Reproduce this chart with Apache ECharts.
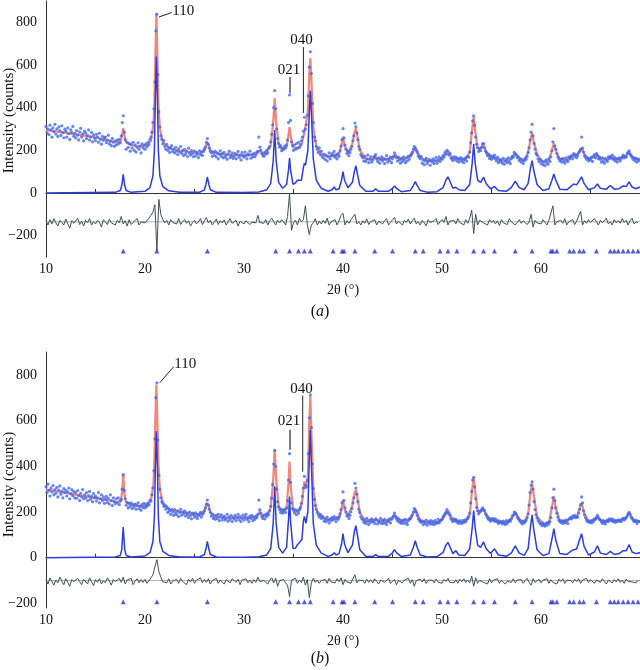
<!DOCTYPE html>
<html>
<head>
<meta charset="utf-8">
<script src="https://cdn.jsdelivr.net/npm/echarts@6/dist/echarts.min.js"></script>
<style>
  html, body { margin: 0; padding: 0; background: #fff; }
  #chart { width: 640px; height: 670px; }
</style>
</head>
<body>
<div id="chart"></div>
<script>
// 观测点: 2θ 从 10 开始, 每 0.1° 一个 (一行 = 1°)
var obsStart = 10
var obsStep = 0.1
// 差值曲线: 每 0.2° 一个 (一行 = 1°)
var diffStep = 0.2

var obsA = [
  312, 281, 300, 274, 318, 296, 262, 305, 288, 322,
  276, 301, 265, 310, 292, 270, 315, 283, 259, 299,
  290, 262, 305, 278, 251, 296, 284, 312, 266, 280,
  258, 292, 271, 249, 286, 303, 262, 277, 244, 290,
  281, 255, 270, 296, 248, 263, 284, 240, 272, 258,
  246, 275, 262, 238, 280, 251, 229, 266, 247, 258,
  262, 236, 248, 271, 230, 243, 222, 256, 238, 219,
  245, 226, 248, 230, 252, 236, 268, 330, 362, 285,
  250, 205, 238, 214, 232, 196, 228, 211, 238, 200,
  226, 192, 214, 235, 205, 220, 188, 230, 211, 224,
  205, 230, 216, 238, 226, 250, 262, 285, 330, 395,
  520, 760, 838, 555, 380, 310, 268, 252, 230, 246,
  218, 205, 228, 200, 214, 190, 210, 222, 195, 206,
  188, 214, 196, 180, 207, 192, 218, 186, 200, 176,
  205, 182, 196, 171, 210, 188, 178, 199, 184, 170,
  196, 174, 190, 182, 166, 198, 180, 192, 176, 195,
  205, 215, 238, 255, 228, 210, 196, 188, 172, 190,
  176, 195, 170, 188, 160, 182, 198, 172, 185, 165,
  190, 168, 178, 158, 184, 196, 166, 175, 188, 162,
  172, 186, 160, 180, 195, 167, 178, 155, 189, 174,
  168, 192, 175, 160, 184, 178, 196, 163, 180, 170,
  186, 170, 180, 192, 195, 262, 215, 200, 185, 178,
  172, 190, 182, 200, 188, 210, 218, 240, 275, 320,
  400, 480, 395, 300, 255, 232, 215, 222, 198, 210,
  205, 220, 212, 226, 248, 330, 460, 340, 240, 222,
  200, 225, 205, 232, 210, 238, 215, 228, 245, 262,
  290, 355, 300, 320, 365, 455, 590, 662, 560, 420,
  330, 262, 245, 218, 205, 190, 212, 180, 196, 172,
  165, 182, 158, 176, 150, 170, 188, 160, 174, 185,
  178, 195, 168, 180, 160, 185, 172, 198, 220, 250,
  302, 258, 225, 205, 185, 196, 175, 190, 205, 218,
  245, 268, 328, 310, 282, 250, 218, 205, 180, 172,
  165, 150, 172, 148, 160, 178, 142, 158, 170, 145,
  155, 168, 172, 180, 160, 148, 165, 140, 158, 170,
  150, 162, 138, 158, 175, 145, 160, 152, 168, 142,
  160, 172, 188, 176, 165, 150, 168, 155, 140, 162,
  148, 170, 156, 142, 165, 150, 172, 158, 175, 182,
  190, 205, 218, 212, 200, 190, 175, 168, 160, 172,
  140, 155, 132, 150, 162, 138, 148, 158, 130, 152,
  145, 160, 138, 152, 166, 140, 155, 170, 148, 162,
  158, 175, 168, 190, 182, 200, 195, 178, 186, 165,
  160, 152, 170, 158, 168, 150, 162, 145, 158, 166,
  148, 160, 142, 158, 165, 150, 172, 168, 192, 235,
  282, 338, 362, 318, 262, 228, 212, 195, 208, 198,
  215, 230, 232, 212, 196, 188, 175, 182, 162, 175,
  158, 172, 165, 178, 160, 150, 168, 142, 158, 148,
  155, 140, 162, 135, 150, 158, 142, 165, 148, 138,
  160, 172, 168, 190, 182, 178, 165, 170, 152, 160,
  145, 155, 138, 150, 162, 158, 172, 190, 212, 248,
  285, 322, 268, 232, 205, 185, 178, 160, 148, 158,
  138, 150, 132, 145, 128, 155, 142, 135, 160, 148,
  170, 198, 240, 302, 220, 205, 185, 170, 162, 150,
  158, 145, 162, 150, 140, 165, 152, 148, 170, 160,
  168, 175, 160, 185, 172, 180, 165, 175, 188, 196,
  205, 262, 210, 192, 175, 168, 158, 165, 150, 160,
  155, 168, 148, 172, 180, 165, 185, 176, 160, 168,
  158, 145, 165, 150, 140, 162, 155, 148, 170, 160,
  172, 165, 178, 158, 168, 150, 162, 145, 158, 165,
  150, 162, 170, 178, 165, 172, 168, 185, 190, 198,
  182, 175, 168, 158, 165, 150, 162, 145, 158, 152
]

var obsB = [
  310, 285, 322, 295, 270, 305, 288, 316, 275, 298,
  282, 308, 266, 296, 314, 278, 290, 262, 302, 285,
  296, 270, 288, 305, 258, 280, 298, 272, 290, 262,
  285, 260, 294, 272, 250, 282, 266, 298, 258, 275,
  262, 285, 250, 272, 290, 256, 268, 245, 280, 262,
  270, 248, 262, 285, 240, 258, 275, 250, 266, 238,
  255, 268, 242, 260, 235, 275, 250, 228, 262, 245,
  236, 258, 240, 262, 232, 250, 255, 300, 362, 295,
  258, 230, 242, 218, 238, 225, 240, 215, 232, 222,
  235, 212, 228, 240, 215, 226, 208, 232, 220, 238,
  218, 232, 225, 240, 232, 252, 248, 275, 305, 380,
  520, 700, 765, 515, 360, 300, 262, 245, 238, 225,
  230, 212, 222, 198, 215, 205, 190, 212, 200, 185,
  210, 195, 188, 205, 180, 198, 212, 186, 200, 192,
  205, 182, 196, 188, 175, 200, 185, 170, 195, 188,
  178, 196, 182, 172, 190, 185, 198, 178, 190, 196,
  205, 218, 235, 252, 230, 212, 198, 182, 190, 172,
  180, 168, 185, 172, 190, 162, 178, 188, 165, 176,
  182, 165, 172, 190, 160, 178, 168, 185, 158, 175,
  170, 185, 162, 176, 190, 166, 180, 158, 172, 186,
  165, 178, 190, 168, 174, 158, 182, 172, 185, 162,
  178, 168, 182, 175, 190, 252, 210, 195, 180, 172,
  185, 170, 190, 180, 195, 188, 205, 225, 260, 320,
  410, 470, 400, 300, 245, 222, 210, 198, 212, 195,
  205, 212, 198, 218, 250, 340, 455, 330, 240, 215,
  208, 196, 210, 188, 205, 195, 212, 220, 238, 268,
  305, 356, 318, 310, 338, 455, 612, 712, 570, 410,
  302, 255, 228, 212, 198, 188, 178, 190, 172, 182,
  175, 160, 170, 158, 178, 165, 152, 170, 162, 175,
  165, 180, 170, 158, 175, 168, 180, 192, 210, 240,
  288, 250, 218, 200, 182, 190, 172, 185, 200, 215,
  240, 262, 325, 305, 278, 245, 212, 198, 180, 170,
  168, 155, 162, 150, 172, 158, 145, 165, 155, 170,
  158, 162, 150, 170, 165, 148, 160, 155, 172, 150,
  162, 150, 168, 155, 145, 165, 158, 170, 152, 168,
  175, 182, 195, 180, 172, 162, 170, 155, 165, 150,
  158, 165, 150, 168, 155, 145, 162, 170, 172, 180,
  188, 200, 215, 208, 198, 185, 172, 165, 160, 155,
  160, 145, 158, 150, 165, 142, 155, 160, 148, 162,
  148, 158, 145, 162, 150, 155, 168, 152, 160, 165,
  168, 178, 185, 192, 198, 210, 202, 195, 185, 172,
  165, 158, 170, 162, 168, 155, 160, 150, 162, 155,
  150, 162, 155, 165, 158, 168, 172, 180, 195, 240,
  290, 340, 352, 310, 258, 220, 205, 192, 200, 205,
  210, 218, 212, 205, 192, 185, 175, 168, 172, 160,
  165, 172, 168, 160, 170, 158, 162, 150, 160, 155,
  158, 148, 160, 152, 145, 162, 150, 158, 165, 160,
  170, 182, 188, 200, 196, 190, 178, 172, 165, 160,
  155, 148, 160, 152, 158, 165, 175, 192, 230, 285,
  318, 332, 300, 245, 210, 188, 175, 165, 158, 150,
  148, 140, 152, 145, 138, 150, 142, 155, 148, 158,
  175, 218, 262, 300, 250, 218, 195, 178, 165, 160,
  155, 162, 150, 160, 152, 165, 158, 150, 168, 172,
  175, 170, 182, 178, 185, 175, 180, 178, 195, 212,
  232, 266, 240, 205, 188, 175, 165, 158, 162, 155,
  160, 152, 165, 158, 170, 168, 178, 185, 175, 168,
  165, 158, 150, 162, 155, 148, 160, 165, 158, 170,
  168, 162, 170, 158, 165, 155, 162, 158, 165, 160,
  165, 158, 168, 172, 165, 170, 175, 182, 192, 198,
  190, 178, 172, 165, 160, 158, 165, 150, 160, 158
]

// 计算曲线 (红), [2θ, counts]
var calcA = [
  [10, 295], [11, 289], [12, 282], [13, 275], [14, 268], [15, 260], [16, 250], [17, 238],
  [17.5, 240], [17.65, 262], [17.8, 304], [17.95, 262], [18.1, 238], [18.6, 224], [19.5, 217],
  [20.2, 222], [20.6, 245], [20.85, 320], [20.95, 420], [21.05, 650], [21.15, 843], [21.25, 640],
  [21.35, 420], [21.5, 300], [21.8, 240], [22.4, 210], [23.5, 197], [24.5, 192], [25.5, 188],
  [26.0, 200], [26.15, 222], [26.3, 240], [26.45, 222], [26.6, 200], [27.2, 186], [28, 180],
  [29, 178], [30, 178], [31, 180], [31.4, 188], [31.6, 200], [31.8, 188], [32.3, 192], [32.7, 225],
  [32.95, 330], [33.1, 445], [33.25, 330], [33.5, 228], [33.9, 200], [34.3, 215], [34.5, 275],
  [34.6, 309], [34.7, 270], [34.95, 215], [35.2, 210], [35.4, 216], [35.6, 214], [35.8, 225],
  [36.0, 265], [36.1, 282], [36.25, 290], [36.45, 380], [36.6, 560], [36.7, 632], [36.8, 540],
  [37.0, 310], [37.3, 220], [37.8, 185], [38.5, 170], [38.9, 175], [39.1, 182], [39.3, 174],
  [39.6, 180], [39.85, 225], [40.0, 263], [40.15, 225], [40.5, 185], [40.95, 230], [41.15, 285],
  [41.3, 303], [41.45, 270], [41.7, 200], [42.3, 160], [43, 158], [43.3, 166], [43.6, 158],
  [44.6, 158], [45.0, 170], [45.2, 178], [45.4, 170], [45.9, 158], [46.8, 170], [47.1, 195],
  [47.3, 210], [47.5, 195], [47.8, 168], [48.5, 150], [49.5, 150], [50.1, 170], [50.4, 185],
  [50.6, 193], [50.8, 183], [51.1, 162], [51.4, 163], [51.7, 158], [52.3, 155], [52.8, 190],
  [53.05, 300], [53.2, 357], [53.35, 290], [53.6, 210], [53.9, 205], [54.2, 225], [54.45, 195],
  [54.9, 165], [55.3, 170], [55.7, 155], [56.5, 148], [57.0, 165], [57.4, 186], [57.8, 165],
  [58.3, 150], [58.7, 190], [58.95, 255], [59.1, 280], [59.25, 245], [59.6, 180], [60.2, 145],
  [60.8, 155], [61.1, 200], [61.3, 233], [61.5, 200], [61.9, 160], [62.6, 158], [63.0, 170],
  [63.3, 178], [63.6, 178], [63.9, 195], [64.1, 210], [64.35, 185], [64.8, 160], [65.4, 168],
  [65.7, 178], [66.0, 165], [66.6, 155], [67.0, 170], [67.4, 158], [67.9, 160], [68.3, 170],
  [68.6, 172], [68.9, 193], [69.2, 172], [69.6, 160], [70, 160]
]

var calcB = [
  [10, 298], [11, 291], [12, 284], [13, 276], [14, 268], [15, 261], [16, 254], [17, 246],
  [17.55, 244], [17.7, 290], [17.8, 368], [17.9, 290], [18.05, 245], [18.5, 232], [19.5, 225],
  [20.2, 228], [20.6, 250], [20.85, 320], [20.95, 430], [21.05, 620], [21.15, 757], [21.25, 600],
  [21.35, 420], [21.5, 300], [21.8, 240], [22.5, 208], [24, 197], [25.5, 190], [26.0, 205],
  [26.15, 225], [26.3, 240], [26.45, 222], [26.6, 200], [27.2, 180], [28, 175], [30, 175],
  [31, 176], [31.4, 185], [31.6, 203], [31.8, 186], [32.3, 185], [32.7, 220], [32.95, 340],
  [33.1, 473], [33.25, 340], [33.5, 225], [33.9, 200], [34.3, 215], [34.5, 330], [34.6, 421],
  [34.7, 320], [34.95, 215], [35.2, 200], [35.4, 197], [35.6, 205], [35.85, 240], [36.0, 300],
  [36.1, 334], [36.25, 300], [36.45, 360], [36.6, 600], [36.7, 706], [36.8, 560], [37.0, 300],
  [37.3, 210], [37.8, 180], [38.5, 166], [39.1, 172], [39.6, 172], [39.85, 215], [40.0, 254],
  [40.15, 215], [40.5, 180], [40.95, 230], [41.15, 280], [41.3, 298], [41.45, 265], [41.7, 195],
  [42.3, 162], [43.3, 165], [44.6, 159], [45.2, 188], [45.9, 160], [46.8, 168], [47.1, 195],
  [47.3, 210], [47.5, 195], [47.8, 165], [48.5, 153], [49.5, 153], [50.1, 170], [50.4, 195],
  [50.6, 203], [50.8, 190], [51.1, 165], [51.4, 163], [51.7, 158], [52.3, 157], [52.8, 190],
  [53.05, 300], [53.2, 350], [53.35, 290], [53.6, 205], [53.9, 200], [54.2, 210], [54.45, 190],
  [54.9, 165], [55.3, 166], [55.7, 155], [56.5, 153], [57.0, 170], [57.4, 197], [57.8, 170],
  [58.3, 153], [58.7, 190], [58.95, 290], [59.1, 324], [59.25, 280], [59.6, 180], [60.3, 144],
  [60.8, 155], [61.1, 220], [61.3, 268], [61.5, 215], [61.9, 162], [62.3, 157], [63.0, 172],
  [63.3, 181], [63.6, 178], [63.9, 215], [64.1, 240], [64.35, 195], [64.8, 158], [65.4, 165],
  [65.7, 181], [66.0, 165], [66.5, 157], [67.0, 166], [67.4, 160], [67.9, 162], [68.3, 170],
  [68.6, 175], [68.9, 198], [69.2, 175], [69.5, 159], [70, 160]
]

// 单相计算峰 (蓝, 无背景)
var phaseA = [
  [10, 0], [17.0, 3], [17.5, 12], [17.65, 35], [17.8, 88], [17.95, 35], [18.1, 12], [18.6, 3],
  [20.0, 8], [20.5, 25], [20.8, 80], [20.95, 200], [21.05, 450], [21.15, 640], [21.25, 450],
  [21.35, 200], [21.5, 80], [21.8, 30], [22.4, 10], [23.5, 3], [25.5, 3], [26.0, 15], [26.15, 40],
  [26.3, 76], [26.45, 40], [26.6, 15], [27.2, 3], [30, 2], [31.5, 5], [32.3, 15], [32.7, 45],
  [32.95, 150], [33.1, 295], [33.25, 150], [33.5, 50], [33.9, 22], [34.3, 40], [34.5, 110],
  [34.6, 164], [34.7, 110], [34.95, 40], [35.2, 48], [35.4, 60], [35.6, 55], [35.8, 60],
  [36.0, 120], [36.1, 140], [36.2, 130], [36.45, 200], [36.6, 380], [36.7, 480], [36.8, 380],
  [37.0, 160], [37.3, 60], [37.8, 22], [38.5, 8], [38.9, 15], [39.1, 28], [39.3, 15], [39.6, 20],
  [39.85, 60], [40.0, 100], [40.15, 60], [40.5, 25], [40.95, 50], [41.15, 100], [41.3, 128],
  [41.45, 90], [41.7, 35], [42.3, 8], [43.0, 8], [43.3, 19], [43.6, 8], [44.6, 8], [45.0, 22],
  [45.2, 33], [45.4, 22], [45.9, 6], [46.8, 12], [47.1, 35], [47.3, 53], [47.5, 35], [47.8, 12],
  [48.5, 4], [49.5, 6], [50.1, 25], [50.4, 60], [50.6, 76], [50.8, 55], [51.1, 22], [51.4, 27],
  [51.7, 15], [52.3, 12], [52.8, 40], [53.05, 140], [53.2, 230], [53.35, 140], [53.6, 60],
  [53.9, 50], [54.2, 74], [54.45, 45], [54.9, 20], [55.3, 30], [55.7, 12], [56.5, 8], [57.0, 25],
  [57.4, 56], [57.8, 25], [58.3, 15], [58.7, 45], [58.95, 120], [59.1, 152], [59.25, 110],
  [59.6, 40], [60.2, 12], [60.8, 20], [61.1, 60], [61.3, 89], [61.5, 60], [61.9, 18], [62.6, 15],
  [63.0, 30], [63.3, 42], [63.6, 38], [63.9, 60], [64.1, 76], [64.35, 45], [64.8, 15], [65.4, 25],
  [65.7, 42], [66.0, 22], [66.6, 18], [67.0, 35], [67.4, 18], [67.9, 20], [68.3, 33], [68.6, 30],
  [68.9, 52], [69.2, 28], [69.6, 20], [69.9, 27], [70, 25]
]

var phaseB = [
  [10, 0], [17.0, 3], [17.5, 10], [17.65, 35], [17.8, 134], [17.95, 35], [18.1, 10], [18.6, 3],
  [20.0, 8], [20.5, 22], [20.8, 70], [20.95, 180], [21.05, 400], [21.15, 553], [21.25, 400],
  [21.35, 180], [21.5, 70], [21.8, 28], [22.4, 10], [23.5, 3], [25.5, 3], [26.0, 14], [26.15, 38],
  [26.3, 71], [26.45, 38], [26.6, 14], [27.2, 3], [30, 2], [31.5, 4], [32.3, 12], [32.7, 40],
  [32.95, 150], [33.1, 312], [33.25, 150], [33.5, 45], [33.9, 20], [34.3, 45], [34.5, 170],
  [34.6, 268], [34.7, 160], [34.95, 40], [35.2, 42], [35.4, 57], [35.6, 50], [35.85, 80],
  [36.0, 160], [36.1, 181], [36.25, 150], [36.45, 200], [36.6, 440], [36.7, 560], [36.8, 420],
  [37.0, 150], [37.3, 55], [37.8, 20], [38.5, 6], [38.9, 12], [39.1, 22], [39.3, 12], [39.6, 18],
  [39.85, 60], [40.0, 105], [40.15, 60], [40.5, 22], [40.95, 55], [41.15, 115], [41.3, 140],
  [41.45, 100], [41.7, 35], [42.3, 6], [43.0, 5], [43.3, 13], [43.6, 5], [44.6, 6], [45.0, 22],
  [45.2, 35], [45.4, 22], [45.9, 5], [46.8, 12], [47.1, 45], [47.3, 74], [47.5, 45], [47.8, 12],
  [48.5, 3], [49.5, 5], [50.1, 22], [50.4, 55], [50.6, 67], [50.8, 48], [51.1, 18], [51.4, 31],
  [51.7, 12], [52.3, 10], [52.8, 38], [53.05, 130], [53.2, 206], [53.35, 130], [53.6, 55],
  [53.9, 45], [54.2, 69], [54.45, 40], [54.9, 18], [55.3, 39], [55.7, 12], [56.5, 6], [57.0, 20],
  [57.4, 52], [57.8, 20], [58.3, 10], [58.7, 40], [58.95, 140], [59.1, 188], [59.25, 130],
  [59.6, 35], [60.2, 10], [60.8, 18], [61.1, 80], [61.3, 127], [61.5, 75], [61.9, 18], [62.6, 14],
  [63.0, 28], [63.3, 35], [63.6, 38], [63.9, 80], [64.1, 105], [64.35, 50], [64.8, 12], [65.4, 25],
  [65.7, 52], [66.0, 20], [66.6, 14], [67.0, 28], [67.4, 14], [67.9, 18], [68.3, 31], [68.6, 30],
  [68.9, 57], [69.2, 25], [69.6, 18], [69.9, 22], [70, 20]
]

// 差值 (已下移)
var diffA = [
  -130, -150, -125, -145, -120,  -140, -155, -128, -138, -150,
  -122, -145, -165, -130, -142,  -135, -118, -148, -132, -155,
  -128, -140, -120, -150, -135,  -145, -128, -138, -160, -125,
  -135, -148, -122, -140, -132,  -150, -128, -140, -110, -145,
  -130, -155, -125, -148, -138,  -142, -120, -150, -135, -128,
  -140, -132, -118, -110, -90,   -55, -270, -30, -100, -125,
  -140, -128, -150, -125, -138,  -132, -145, -120, -148, -135,
  -125, -142, -130, -155, -138,  -128, -145, -135, -120, -148,
  -130, -115, -140, -128, -150,  -135, -122, -148, -130, -140,
  -126, -150, -135, -120, -142,  -138, -128, -155, -132, -125,
  -145, -130, -122, -148, -136,  -128, -140, -105, -138, -130,
  -142, -125, -150, -130, -118,  -110, -150, -128, -140, -125,
  -135, -150, -110, 0, -175,     -140, -128, -150, -118, -135,
  -125, -60, -150, -195, -150,   -140, -120, -150, -132, -145,
  -128, -142, -118, -150, -135,  -140, -125, -150, -130, -105,
  -95, -150, -130, -142, -125,   -120, -100, -145, -135, -150,
  -130, -142, -122, -148, -135,  -140, -125, -150, -132, -128,
  -145, -130, -120, -150, -138,  -125, -115, -145, -132, -140,
  -150, -128, -138, -122, -145,  -130, -118, -145, -135, -150,
  -128, -140, -155, -125, -138,  -142, -130, -120, -148, -135,
  -125, -138, -110, -150, -132,  -140, -128, -145, -120, -138,
  -132, -150, -125, -142, -118,  -80, -190, -100, -150, -128,
  -120, -140, -132, -150, -125,  -138, -128, -145, -130, -152,
  -125, -140, -132, -148, -120,  -135, -128, -150, -138, -125,
  -142, -130, -122, -148, -135,  -100, -160, -128, -140, -132,
  -145, -125, -138, -150, -128,  -130, -60, -150, -135, -140,
  -128, -142, -120, -150, -135,  -140, -125, -148, -132, -128,
  -85, -150, -130, -142, -125,   -138, -145, -120, -135, -150,
  -128, -140, -132, -118, -145,  -135, -150, -125, -140, -130,
  -142, -120, -138, -128, -150,  -130, -118, -145, -135, -140
]

var diffB = [
  -95, -115, -88, -105, -120,   -98, -110, -85, -102, -118,
  -92, -108, -125, -96, -105,   -112, -90, -104, -118, -95,
  -100, -115, -88, -106, -122,  -96, -108, -92, -115, -100,
  -110, -88, -102, -120, -95,   -105, -112, -90, -108, -85,
  -115, -98, -106, -90, -118,   -102, -92, -110, -96, -108,
  -95, -112, -100, -88, -75,    -40, -8, -60, -85, -105,
  -98, -110, -92, -115, -102,   -108, -95, -112, -90, -104,
  -100, -118, -94, -106, -90,   -112, -98, -105, -88, -110,
  -95, -108, -92, -115, -100,   -106, -90, -112, -98, -104,
  -115, -96, -102, -110, -92,   -100, -108, -94, -118, -98,
  -105, -92, -110, -98, -112,   -96, -108, -85, -104, -110,
  -100, -92, -115, -98, -88,    -110, -90, -125, -100, -108,
  -95, -110, -120, -170, -98,   -105, -90, -112, -98, -108,
  -85, -120, -95, -175, -110,   -90, -108, -98, -112, -100,
  -104, -95, -112, -90, -106,   -98, -110, -92, -105, -88,
  -118, -95, -106, -100, -112,  -92, -75, -110, -98, -105,
  -100, -112, -94, -108, -96,   -110, -92, -104, -115, -98,
  -96, -108, -100, -90, -112,   -104, -95, -118, -100, -92,
  -110, -98, -105, -90, -112,   -96, -125, -100, -108, -94,
  -106, -92, -112, -98, -104,   -98, -110, -94, -106, -100,
  -112, -95, -104, -90, -108,   -100, -110, -96, -112, -94,
  -105, -92, -108, -98, -110,   -80, -125, -88, -112, -100,
  -95, -108, -100, -115, -92,   -110, -98, -104, -92, -112,
  -100, -94, -115, -102, -96,   -108, -92, -110, -98, -104,
  -95, -112, -100, -90, -108,   -120, -92, -108, -100, -94,
  -110, -98, -104, -92, -112,   -96, -108, -100, -115, -94,
  -104, -92, -112, -98, -106,   -100, -110, -94, -104, -92,
  -112, -98, -106, -90, -108,   -96, -104, -112, -98, -100,
  -108, -92, -104, -115, -98,   -100, -110, -96, -106, -92,
  -108, -98, -112, -94, -104,   -96, -106, -100, -110, -98
]
var diffZeroA = -135
var diffZeroB = -100

// 布拉格反射位置
var reflections = [17.8, 21.2, 26.3, 33.2, 34.6, 35.5, 36.1, 36.7, 39.0, 39.9, 40.1, 41.2, 43.2,
  45.0, 47.3, 48.1, 49.8, 50.6, 51.5, 53.2, 54.2, 55.3, 57.4, 59.1, 61.0, 61.2, 61.6, 62.9,
  63.3, 63.9, 64.3, 65.6, 67.0, 67.4, 67.8, 68.3, 68.8, 69.3, 69.8]
var reflRowA = -272
var reflRowB = -193

var yTicks = [-200, 0, 200, 400, 600, 800]

// 标注: [文字, 线起点, 线终点, 文字位置, 对齐]
var notesA = [
  ['110', [21.4, 825], [22.7, 846], [22.75, 853], 'left'],
  ['021', [34.65, 544], [34.65, 469], [34.55, 577], 'center'],
  ['040', [36.0, 684], [36.0, 375], [35.8, 717], 'center']
]
var notesB = [
  ['110', [21.5, 766], [22.9, 836], [22.95, 849], 'left'],
  ['021', [34.65, 560], [34.65, 472], [34.55, 599], 'center'],
  ['040', [35.93, 709], [35.93, 376], [35.8, 739], 'center']
]

var serif = '"Liberation Serif", "Times New Roman", serif'

function onGrid (values, step) {
  return values.map(function (v, i) {
    return [+(obsStart + i * step).toFixed(1), v]
  })
}

function makeAxes (idx, min) {
  let x = {
    type: 'value', gridIndex: idx, min: 10, max: 70, interval: 10,
    name: '2θ (°)', nameLocation: 'middle', nameGap: 26,
    nameTextStyle: { fontFamily: serif, fontSize: 14, color: '#111' },
    axisLine: { lineStyle: { color: '#333', width: 1 } },
    axisTick: { show: false, inside: true },
    minorTick: { show: true, splitNumber: 2, length: 4, lineStyle: { color: '#333' } },
    axisLabel: { fontFamily: serif, fontSize: 14, color: '#111', margin: 5, showMaxLabel: false },
    splitLine: { show: false }
  }
  let y = {
    type: 'value', gridIndex: idx, min: min, max: 900,
    axisLine: { show: true, lineStyle: { color: '#333', width: 1 } },
    axisTick: { show: false },
    axisLabel: {
      fontFamily: serif, fontSize: 14, color: '#111', margin: 9,
      customValues: yTicks,
      formatter: function (v) { return v < 0 ? '\u2212' + Math.abs(v) : '' + v }
    },
    splitLine: { show: false }
  }
  return [x, y]
}

function makeSeries (idx, obs, calc, phase, diff, diffZero, reflRow) {
  let base = { xAxisIndex: idx, yAxisIndex: idx, silent: true, animation: false }
  return [
    Object.assign({ type: 'line', data: calc, showSymbol: false, z: 2,
      lineStyle: { color: '#f2867a', width: 2.2 } }, base),
    Object.assign({ type: 'scatter', data: onGrid(obs, obsStep), symbolSize: 3.2, z: 3,
      itemStyle: { color: '#4068ee', opacity: 0.8 } }, base),
    Object.assign({ type: 'line', data: phase, showSymbol: false, z: 4,
      lineStyle: { color: '#2b3de0', width: 1.5 } }, base),
    Object.assign({ type: 'line', data: [[10, diffZero], [70, diffZero]], showSymbol: false, z: 2,
      lineStyle: { color: '#9a9a9a', width: 0.8 } }, base),
    Object.assign({ type: 'line', data: onGrid(diff, diffStep), showSymbol: false, z: 3,
      lineStyle: { color: '#3e5252', width: 1 } }, base),
    Object.assign({ type: 'scatter', data: reflections.map(function (r) { return [r, reflRow] }),
      symbol: 'triangle', symbolSize: 5, z: 3, itemStyle: { color: '#2a32c8' } }, base)
  ]
}

let axesA = makeAxes(0, -300)
let axesB = makeAxes(1, -220)

let chart = echarts.init(document.getElementById('chart'), null, { renderer: 'canvas' })
chart.setOption({
  backgroundColor: '#fff',
  animation: false,
  grid: [
    { left: 46, top: 1, width: 594, height: 256, containLabel: false, outerBoundsMode: 'none' },
    { left: 46, top: 352, width: 594, height: 256, containLabel: false, outerBoundsMode: 'none' }
  ],
  xAxis: [axesA[0], axesB[0]],
  yAxis: [axesA[1], axesB[1]],
  series: makeSeries(0, obsA, calcA, phaseA, diffA, diffZeroA, reflRowA)
    .concat(makeSeries(1, obsB, calcB, phaseB, diffB, diffZeroB, reflRowB))
})

// 标注用数据坐标换算成像素
function noteGraphics (idx, notes) {
  let out = []
  notes.forEach(function (n) {
    let p1 = chart.convertToPixel({ gridIndex: idx }, n[1])
    let p2 = chart.convertToPixel({ gridIndex: idx }, n[2])
    let pt = chart.convertToPixel({ gridIndex: idx }, n[3])
    let grey = n[0] === '021'
    out.push({ type: 'line', silent: true, z: 10,
      shape: { x1: p1[0], y1: p1[1], x2: p2[0], y2: p2[1] },
      style: { stroke: grey ? '#7a7a7a' : '#222', lineWidth: grey ? 2 : 1 } })
    out.push({ type: 'text', silent: true, z: 10, x: pt[0], y: pt[1],
      style: { text: n[0], font: '15px ' + serif, fill: '#111',
        align: n[4], textAlign: n[4], verticalAlign: 'middle', textVerticalAlign: 'middle' } })
  })
  return out
}

// y 轴标题 (竖排), 放在每个绘图区的中部
function yTitle (idx) {
  let mid = chart.convertToPixel({ gridIndex: idx }, [10, idx === 0 ? 340 : 320])
  return { type: 'text', silent: true, x: 9, y: mid[1], rotation: Math.PI / 2,
    style: { text: 'Intensity (counts)', font: '15px ' + serif, fill: '#111',
      align: 'center', textAlign: 'center', verticalAlign: 'middle', textVerticalAlign: 'middle' } }
}

function caption (letter, top) {
  return { type: 'text', silent: true, left: 'center', top: top,
    style: { text: '({i|' + letter + '})', font: '16px ' + serif, fill: '#111',
      rich: { i: { fontStyle: 'italic', fontFamily: serif, fontSize: 16, fill: '#111' } } } }
}

chart.setOption({
  graphic: noteGraphics(0, notesA).concat(noteGraphics(1, notesB))
    .concat([yTitle(0), yTitle(1), caption('a', 304), caption('b', 651)])
})
</script>
</body>
</html>
